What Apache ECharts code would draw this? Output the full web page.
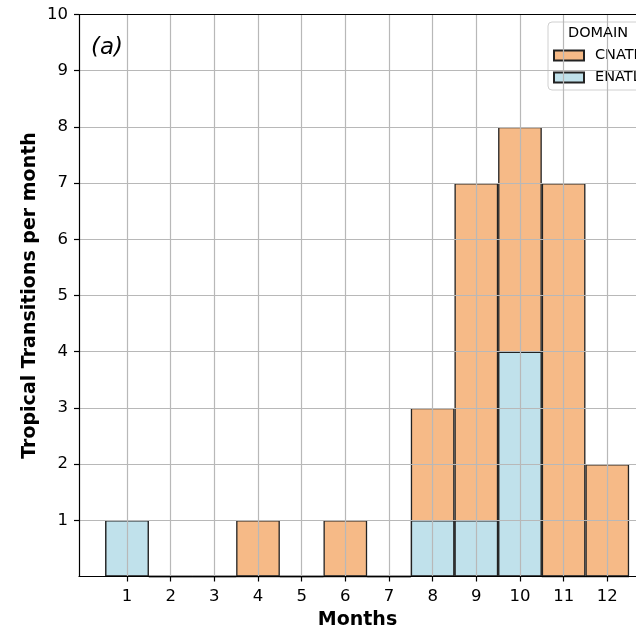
<!DOCTYPE html>
<html>
<head>
<meta charset="utf-8">
<script src="https://cdn.jsdelivr.net/npm/echarts@6/dist/echarts.min.js"></script>
<style>
html,body{margin:0;padding:0;background:#fff;}
#c{width:636px;height:627px;}
</style>
</head>
<body>
<div id="c"></div>
<script>
const months = [1,2,3,4,5,6,7,8,9,10,11,12];
const enatl = [1,0,0,0,0,0,0,1,1,4,0,0];
const cnatl = [0,0,0,1,0,1,0,2,6,4,7,2];
const yTicks = [1,2,3,4,5,6,7,8,9,10];

const GRID_LEFT = 79, GRID_TOP = 14.5, GRID_H = 562;
const GRID_W = 636 - GRID_LEFT;
const unit = 43.66;
const X_MIN = -0.1, X_MAX = X_MIN + GRID_W / unit;
const FONT = 'DejaVu Sans';

// stacked totals: CNATL sits on top of ENATL
const totals = months.map((m, i) => enatl[i] + cnatl[i]);

const chart = echarts.init(document.getElementById('c'), null, {renderer:'canvas'});
chart.setOption({
  animation: false,
  backgroundColor: '#fff',
  textStyle: {fontFamily: FONT},
  grid: {left: GRID_LEFT, top: GRID_TOP, width: GRID_W, height: GRID_H, containLabel: false, outerBoundsMode: 'none'},
  title: {
    text: '(a)', left: 86, top: 32,
    textStyle: {fontFamily: FONT, fontStyle: 'italic', fontWeight: 'normal', fontSize: 23, color: '#000'}
  },
  legend: {
    data: ['CNATL','ENATL'],
    orient: 'vertical',
    left: 553, top: 48,
    itemWidth: 30, itemHeight: 10, itemGap: 7,
    padding: [0,0,0,0],
    textStyle: {fontFamily: FONT, fontSize: 14.5, color: '#000', padding: [0,0,0,6]},
    icon: 'rect'
  },
  graphic: [
    {type: 'rect', z: -1, shape: {x: 548, y: 22, width: 120, height: 68, r: 4},
     style: {fill: '#fff', stroke: '#d0d0d0', lineWidth: 1}},
    {type: 'text', z: 100, left: 568, top: 26,
     style: {text: 'DOMAIN', fontFamily: FONT, fontSize: 14.5, fill: '#000'}}
  ],
  xAxis: [{
    type: 'value', min: X_MIN, max: X_MAX, z: 5,
    name: 'Months', nameLocation: 'middle', nameGap: 32,
    nameTextStyle: {fontFamily: FONT, fontWeight: 'bold', fontSize: 19, color: '#000'},
    axisLine: {show: true, onZero: false, lineStyle: {color: '#000', width: 1.2}},
    axisTick: {show: true, length: 5, customValues: months, lineStyle: {color: '#000', width: 1.2}},
    axisLabel: {customValues: months, fontFamily: FONT, fontSize: 16.5, color: '#000', margin: 12},
    splitLine: {show: true, lineStyle: {color: '#b8b8b8', width: 1.2}}
  },{
    type: 'value', min: X_MIN, max: X_MAX, position: 'top', z: 6,
    axisLine: {show: true, onZero: false, lineStyle: {color: '#000', width: 1.2}},
    axisTick: {show: false}, axisLabel: {show: false}, splitLine: {show: false}
  }],
  yAxis: {
    type: 'value', min: 0, max: 10, z: 5,
    name: 'Tropical Transitions per month', nameLocation: 'middle', nameGap: 39, nameMoveOverlap: false,
    nameTextStyle: {fontFamily: FONT, fontWeight: 'bold', fontSize: 19, color: '#000'},
    axisLine: {show: true, onZero: false, lineStyle: {color: '#000', width: 1.2}},
    axisTick: {show: true, length: 5, customValues: yTicks, lineStyle: {color: '#000', width: 1.2}},
    axisLabel: {customValues: yTicks, fontFamily: FONT, fontSize: 16.5, color: '#000', margin: 11},
    splitLine: {show: true, lineStyle: {color: '#b8b8b8', width: 1.2}}
  },
  series: [
    {
      name: 'CNATL', type: 'bar', barWidth: unit, barGap: '-100%', z: 2,
      data: months.map((m,i) => [m, totals[i]]),
      itemStyle: {color: '#f6ba87', borderColor: '#222', borderWidth: 1.3}
    },
    {
      name: 'ENATL', type: 'bar', barWidth: unit, barGap: '-100%', z: 3,
      data: months.map((m,i) => [m, enatl[i]]),
      itemStyle: {color: '#c0e1eb', borderColor: '#222', borderWidth: 1.3}
    }
  ]
});
</script>
</body>
</html>
